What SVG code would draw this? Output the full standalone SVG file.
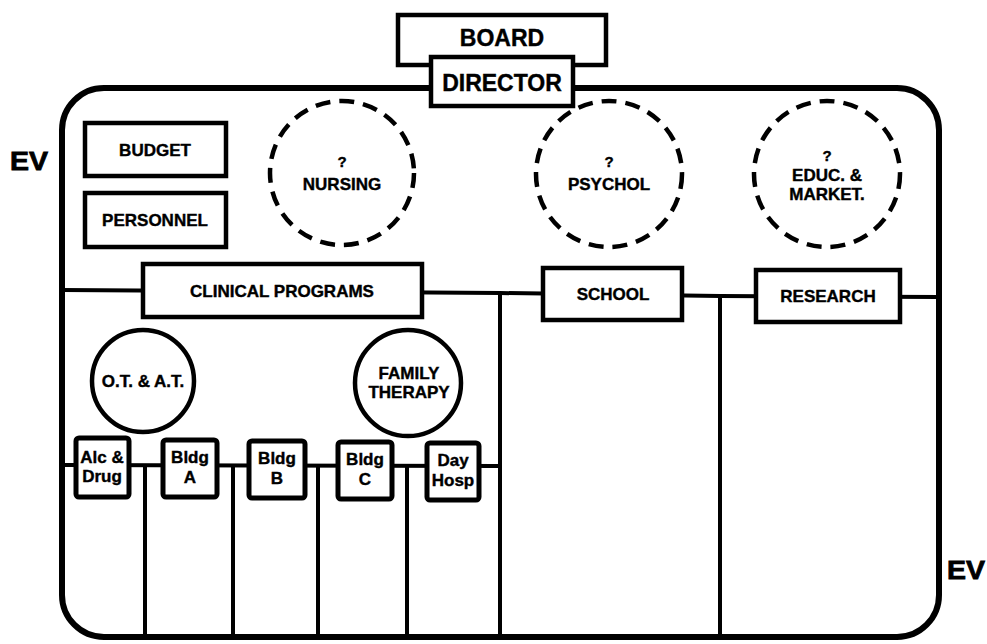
<svg xmlns="http://www.w3.org/2000/svg" width="987" height="644" viewBox="0 0 987 644">
  <style>
    .box { fill: #fff; stroke: #000; stroke-width: 4.5; }
    .cell { fill: #fff; stroke: #000; stroke-width: 5; }
    .circ { fill: #fff; stroke: #000; stroke-width: 4.5; }
    .dash { fill: none; stroke: #000; stroke-width: 4.5; stroke-dasharray: 15 9; }
    .line { fill: none; stroke: #000; stroke-width: 4; }
    .frame { fill: none; stroke: #000; stroke-width: 6; }
    text { font-family: "Liberation Sans", Arial, sans-serif; font-weight: bold; fill: #000; text-anchor: middle; stroke: #000; stroke-width: 0.4; }
    .big { font-size: 23px; }
    .mid { font-size: 17px; }
    .q { font-size: 15px; }
    .small { font-size: 17px; }
    .ev { font-size: 26px; stroke-width: 0.8; }
  </style>

  <rect width="987" height="644" fill="#fff"/>

  <!-- organisation boundary -->
  <rect class="frame" x="62" y="88" width="877" height="549" rx="42" ry="42"/>

  <!-- connectors -->
  <g id="connectors">
    <polyline class="line" points="62,290 500,293 720,296 939,297"/>
    <line class="line" x1="500" y1="293" x2="500" y2="637"/>
    <line class="line" x1="720" y1="296" x2="720" y2="637"/>
    <line class="line" x1="62" y1="465" x2="500" y2="466"/>
    <line class="line" x1="145" y1="465" x2="145" y2="637"/>
    <line class="line" x1="233" y1="465" x2="233" y2="637"/>
    <line class="line" x1="318" y1="466" x2="318" y2="637"/>
    <line class="line" x1="407" y1="466" x2="407" y2="637"/>
  </g>

  <g id="board">
    <rect class="box" x="398" y="15" width="208" height="50"/>
    <text class="big" x="502" y="46">BOARD</text>
  </g>
  <g id="director">
    <rect class="box" x="431" y="57" width="142" height="49"/>
    <text class="big" x="502" y="91">DIRECTOR</text>
  </g>

  <g id="budget">
    <rect class="box" x="85" y="123" width="141" height="53"/>
    <text class="mid" x="155" y="156">BUDGET</text>
  </g>
  <g id="personnel">
    <rect class="box" x="85" y="193" width="141" height="54"/>
    <text class="mid" x="155" y="226">PERSONNEL</text>
  </g>

  <g id="nursing">
    <circle class="dash" cx="342" cy="173" r="72"/>
    <text class="q" x="342" y="167">?</text>
    <text class="mid" x="342" y="190">NURSING</text>
  </g>
  <g id="psychol">
    <circle class="dash" cx="609" cy="174" r="73"/>
    <text class="q" x="609" y="167">?</text>
    <text class="mid" x="609" y="190">PSYCHOL</text>
  </g>
  <g id="educ-market">
    <circle class="dash" cx="827" cy="174" r="73"/>
    <text class="q" x="827" y="161">?</text>
    <text class="mid" x="827" y="181">EDUC. &amp;</text>
    <text class="mid" x="827" y="200">MARKET.</text>
  </g>

  <g id="clinical-programs">
    <rect class="box" x="143" y="264" width="279" height="53"/>
    <text class="mid" x="282" y="297">CLINICAL PROGRAMS</text>
  </g>
  <g id="school">
    <rect class="box" x="543" y="268" width="139" height="52"/>
    <text class="mid" x="613" y="300">SCHOOL</text>
  </g>
  <g id="research">
    <rect class="box" x="756" y="270" width="144" height="52"/>
    <text class="mid" x="828" y="302">RESEARCH</text>
  </g>

  <g id="ot-at">
    <circle class="circ" cx="143" cy="381" r="51"/>
    <text class="mid" x="143" y="387">O.T. &amp; A.T.</text>
  </g>
  <g id="family-therapy">
    <circle class="circ" cx="408" cy="383" r="53"/>
    <text class="mid" x="409" y="379">FAMILY</text>
    <text class="mid" x="409" y="398">THERAPY</text>
  </g>

  <g id="alc-drug">
    <rect class="cell" x="76" y="438" width="53" height="59" rx="3"/>
    <text class="small" x="102" y="463">Alc &amp;</text>
    <text class="small" x="102" y="482">Drug</text>
  </g>
  <g id="bldg-a">
    <rect class="cell" x="163" y="440" width="54" height="57" rx="3"/>
    <text class="small" x="190" y="463">Bldg</text>
    <text class="small" x="190" y="483">A</text>
  </g>
  <g id="bldg-b">
    <rect class="cell" x="249" y="441" width="56" height="57" rx="3"/>
    <text class="small" x="277" y="464">Bldg</text>
    <text class="small" x="277" y="484">B</text>
  </g>
  <g id="bldg-c">
    <rect class="cell" x="338" y="442" width="54" height="57" rx="3"/>
    <text class="small" x="365" y="465">Bldg</text>
    <text class="small" x="365" y="485">C</text>
  </g>
  <g id="day-hosp">
    <rect class="cell" x="427" y="443" width="52" height="57" rx="3"/>
    <text class="small" x="453" y="466">Day</text>
    <text class="small" x="453" y="486">Hosp</text>
  </g>

  <!-- edge labels -->
  <text class="ev" x="29" y="170" textLength="38" lengthAdjust="spacingAndGlyphs">EV</text>
  <text class="ev" x="966" y="579" textLength="38" lengthAdjust="spacingAndGlyphs">EV</text>
</svg>
